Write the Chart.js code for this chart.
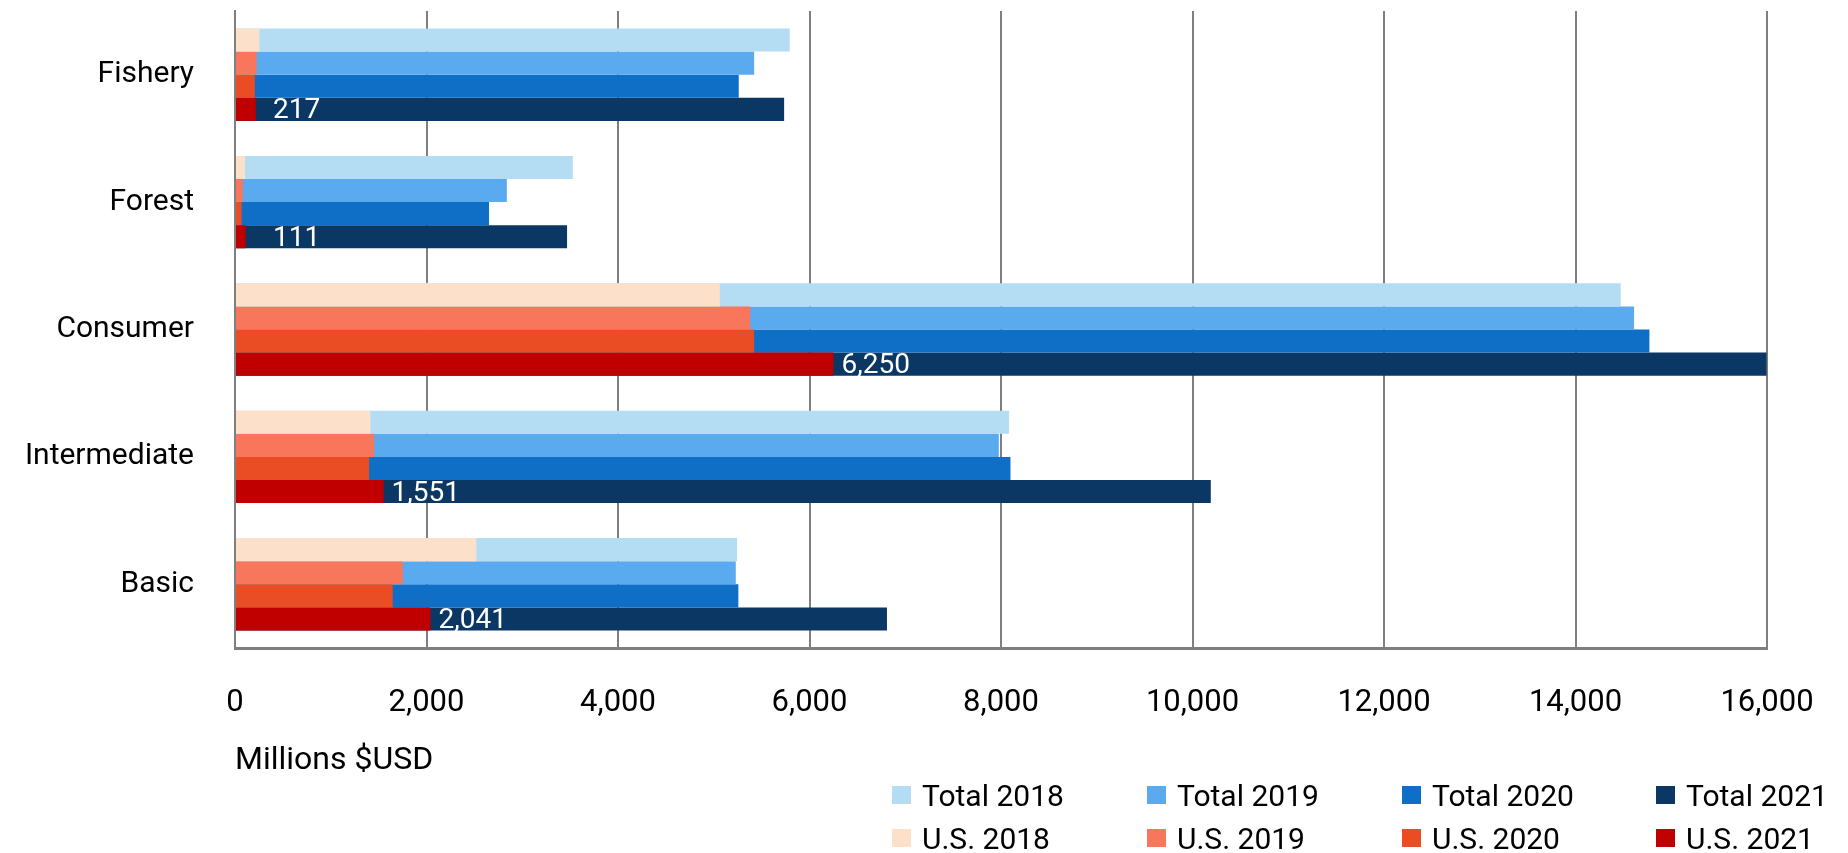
<!DOCTYPE html>
<html>
<head>
<meta charset="utf-8">
<script src="https://cdn.jsdelivr.net/npm/chart.js@4.4.1/dist/chart.umd.min.js"></script>
<style>
  html, body { margin: 0; padding: 0; background: #ffffff; }
  #wrap { position: relative; width: 1848px; height: 853px; }
  #c { position: absolute; left: 0; top: 0; }
  .lg { position: absolute; height: 40px; display: flex; align-items: center; font-family: Roboto, "Noto Sans", sans-serif; font-size: 30px; color: #000; white-space: nowrap; }
  .lg span.box { display: inline-block; width: 19px; height: 18px; margin-right: 11px; }
</style>
</head>
<body>
<div id="wrap">
  <canvas id="c" width="1848" height="853"></canvas>
  <div id="legend"></div>
</div>
<script>
// ---- data ----
const categories = ['Fishery', 'Forest', 'Consumer', 'Intermediate', 'Basic'];
const years = ['2018', '2019', '2020', '2021'];
const total2018 = [5794, 3528, 14472, 8085, 5244];
const total2019 = [5422, 2839, 14612, 7977, 5230];
const total2020 = [5261, 2653, 14772, 8099, 5257];
const total2021 = [5735, 3468, 15995, 10191, 6809];
const us2018 = [255, 105, 5063, 1414, 2520];
const us2019 = [225, 81, 5381, 1454, 1753];
const us2020 = [207, 69, 5422, 1401, 1647];
const us2021 = [217, 111, 6250, 1551, 2041];
const xTicks = [0, 2000, 4000, 6000, 8000, 10000, 12000, 14000, 16000];
const axisTitle = 'Millions $USD';

const totalColors = ['#B4DDF3', '#5AAAF0', '#0F6FC6', '#0A3764'];
const usColors = ['#FDE0CA', '#F8775C', '#EA4D23', '#C00000'];
const totals = [total2018, total2019, total2020, total2021];
const uss = [us2018, us2019, us2020, us2021];

const FONT = 'Roboto, "Noto Sans", sans-serif';

const datasets = [];
years.forEach((y, i) => {
  datasets.push({ label: 'U.S. ' + y, data: uss[i], backgroundColor: usColors[i], stack: 's' + y, borderWidth: 0 });
});
years.forEach((y, i) => {
  datasets.push({ label: 'Total ' + y, data: totals[i], backgroundColor: totalColors[i], stack: 's' + y, borderWidth: 0 });
});

const valueLabels = {
  id: 'valueLabels',
  afterDatasetsDraw(chart) {
    const idx = datasets.findIndex(d => d.label === 'U.S. 2021');
    const meta = chart.getDatasetMeta(idx);
    const ctx = chart.ctx;
    const left = chart.chartArea.left;
    ctx.save();
    ctx.fillStyle = '#ffffff';
    ctx.font = '28px ' + FONT;
    ctx.textAlign = 'left';
    ctx.textBaseline = 'middle';
    meta.data.forEach((bar, i) => {
      const txt = us2021[i].toLocaleString('en-US');
      const x = Math.max(bar.x + 8, left + 38);
      ctx.fillText(txt, x, bar.y + 2);
    });
    ctx.restore();
  }
};

new Chart(document.getElementById('c'), {
  type: 'bar',
  data: { labels: categories, datasets: datasets },
  plugins: [valueLabels],
  options: {
    indexAxis: 'y',
    responsive: false,
    animation: false,
    devicePixelRatio: 1,
    categoryPercentage: 0.725,
    barPercentage: 1.0,
    layout: { padding: { left: 0, top: 11, right: 81, bottom: 0 } },
    plugins: { legend: { display: false }, tooltip: { enabled: false } },
    scales: {
      x: {
        type: 'linear',
        stacked: false,
        min: 0,
        max: 16000,
        afterBuildTicks(scale) { scale.ticks = xTicks.map(v => ({ value: v })); },
        afterFit(scale) { scale.height = 205; scale.paddingLeft = 0; scale.paddingRight = 0; },
        ticks: {
          color: '#000',
          font: { family: FONT, size: 31 },
          padding: 37,
          maxRotation: 0,
          minRotation: 0,
          autoSkip: false,
          callback: v => Number(v).toLocaleString('en-US')
        },
        grid: { color: '#7f7f7f', lineWidth: 2, drawTicks: false },
        border: { display: true, color: '#7f7f7f', width: 3 },
        title: {
          display: true,
          text: axisTitle,
          align: 'start',
          color: '#000',
          font: { family: FONT, size: 32 },
          padding: { top: 0, bottom: 73 }
        }
      },
      y: {
        type: 'category',
        stacked: true,
        afterFit(scale) { scale.width = 235; },
        ticks: { color: '#000', font: { family: FONT, size: 30, lineHeight: 0.6 }, padding: 0 },
        grid: { display: true, drawOnChartArea: false, drawTicks: true, tickLength: 41, tickColor: 'rgba(0,0,0,0)' },
        border: { display: true, color: '#7f7f7f', width: 2 }
      }
    }
  }
});

// ---- legend (grid of 2 rows x 4 columns) ----
const legend = document.getElementById('legend');
const colX = [892, 1147, 1402, 1656];
const rowY = [795, 838];
const rows = [
  years.map((y, i) => ({ text: 'Total ' + y, color: totalColors[i] })),
  years.map((y, i) => ({ text: 'U.S. ' + y, color: usColors[i] }))
];
rows.forEach((row, r) => {
  row.forEach((item, c) => {
    const d = document.createElement('div');
    d.className = 'lg';
    d.style.left = colX[c] + 'px';
    d.style.top = (rowY[r] - 20) + 'px';
    const b = document.createElement('span');
    b.className = 'box';
    b.style.background = item.color;
    d.appendChild(b);
    d.appendChild(document.createTextNode(item.text));
    legend.appendChild(d);
  });
});
</script>
</body>
</html>
